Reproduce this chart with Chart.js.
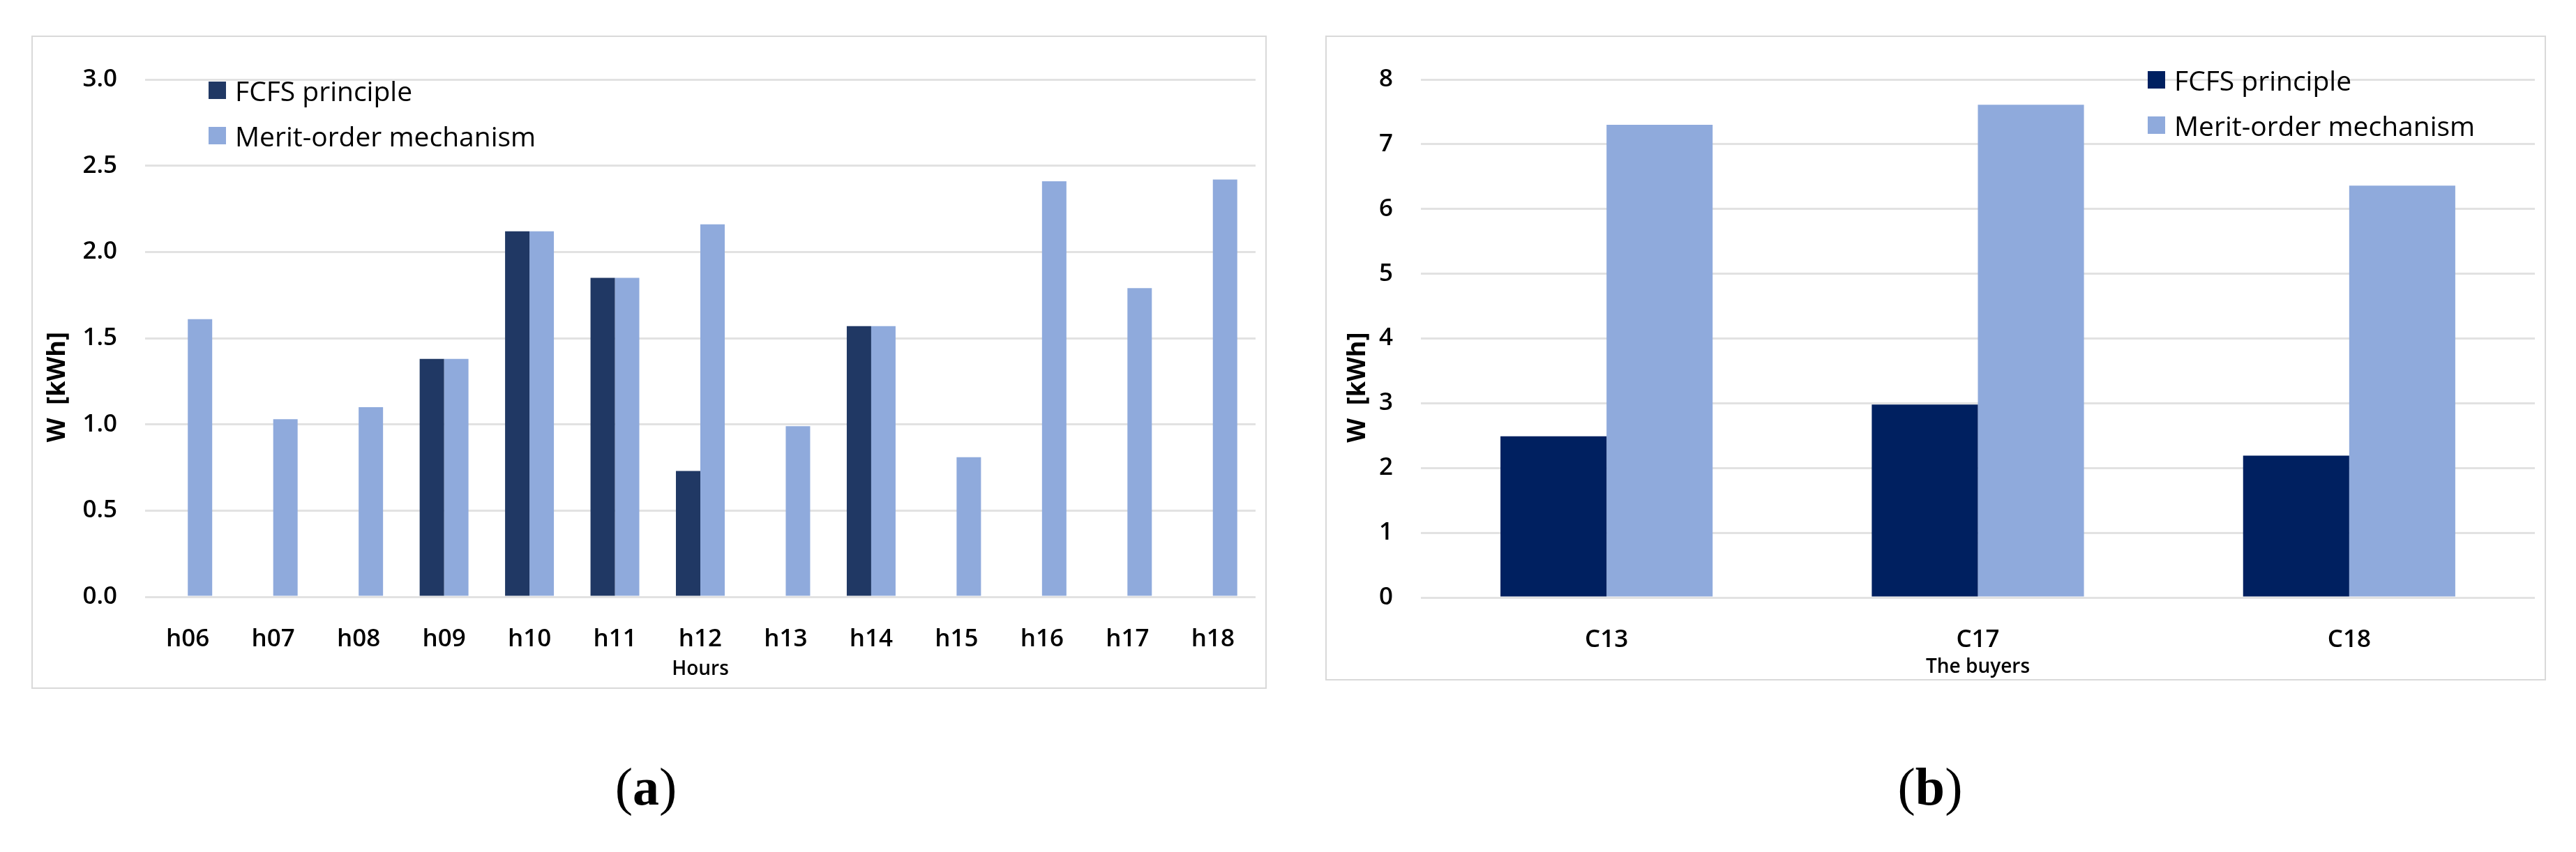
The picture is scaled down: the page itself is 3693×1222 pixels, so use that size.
<!DOCTYPE html>
<html>
<head>
<meta charset="utf-8">
<script src="https://cdn.jsdelivr.net/npm/chart.js@4.4.1/dist/chart.umd.min.js"></script>
<style>
    body { margin: 0; background: #fff; width: 3693px; height: 1222px; position: relative; overflow: hidden; }
    .panel { position: absolute; border: 2px solid #d9d9d9; box-sizing: border-box; background: #fff; }
    .panel canvas { display: block; }
    .legend { position: absolute; font-family: 'Open Sans', sans-serif; font-size: 39px; color: #000; }
    .legend div { height: 65px; display: flex; align-items: center; white-space: nowrap; }
    .legend span.box { display: inline-block; width: 25px; height: 25px; margin-right: 13px; }
    .caption { position: absolute; top: 1085px; width: 200px; text-align: center; font-family: 'Liberation Serif', 'Times New Roman', serif; font-size: 76px; color: #000; }
</style>
</head>
<body>
<div class="panel" id="panel-a" style="left:45px; top:51px; width:1771px; height:937px;">
    <canvas id="hours-chart" width="1767" height="933"></canvas>
</div>
<div class="panel" id="panel-b" style="left:1900px; top:51px; width:1750px; height:925px;">
    <canvas id="buyers-chart" width="1746" height="921"></canvas>
</div>
<div class="legend" id="legend-a" style="left:299px; top:97px;"></div>
<div class="legend" id="legend-b" style="left:3079px; top:82px;"></div>
<div class="caption" style="left:826px;">(<b>a</b>)</div>
<div class="caption" style="left:2667px;">(<b>b</b>)</div>

<script>
// chart (a): energy per hour
const hours = ['h06', 'h07', 'h08', 'h09', 'h10', 'h11', 'h12', 'h13', 'h14', 'h15', 'h16', 'h17', 'h18'];
const fcfsHourly = [0, 0, 0, 1.38, 2.12, 1.85, 0.73, 0, 1.57, 0, 0, 0, 0];
const meritHourly = [1.61, 1.03, 1.10, 1.38, 2.12, 1.85, 2.16, 0.99, 1.57, 0.81, 2.41, 1.79, 2.42];

// chart (b): energy per buyer
const buyers = ['C13', 'C17', 'C18'];
const fcfsBuyers = [2.49, 2.98, 2.19];
const meritBuyers = [7.30, 7.61, 6.36];

const seriesNames = ['FCFS principle', 'Merit-order mechanism'];
const lightBlue = '#8FAADC';

const tickFont = { family: "'Open Sans', sans-serif", size: 35, weight: '600' };

function buildChart(canvasId, labels, fcfs, merit, opts) {
    const ctx = document.getElementById(canvasId).getContext('2d');
    return new Chart(ctx, {
        type: 'bar',
        data: {
            labels: labels,
            datasets: [
                { label: seriesNames[0], data: fcfs, backgroundColor: opts.dark, borderWidth: 0 },
                { label: seriesNames[1], data: merit, backgroundColor: lightBlue, borderWidth: 0 }
            ]
        },
        options: {
            responsive: false,
            animation: false,
            categoryPercentage: 0.5714, // Excel gap width 150%
            barPercentage: 1,
            layout: { padding: { top: 30, right: 14, left: 0, bottom: 0 } },
            plugins: {
                legend: { display: false },
                tooltip: { enabled: false }
            },
            scales: {
                x: {
                    grid: { display: false },
                    border: { display: false },
                    ticks: { color: '#000', font: tickFont, padding: 32 },
                    title: {
                        display: true,
                        text: opts.xTitle,
                        color: '#000',
                        font: { family: "'Open Sans', sans-serif", size: 28, weight: '600' },
                        padding: { top: 0, bottom: opts.xTitlePad }
                    },
                    afterFit: axis => { axis.height = opts.xHeight; }
                },
                y: {
                    min: 0,
                    max: opts.yMax,
                    border: { display: false },
                    grid: { color: '#e2e2e2', lineWidth: 3, drawTicks: false },
                    ticks: {
                        stepSize: opts.yStep,
                        color: '#000',
                        font: tickFont,
                        padding: 40,
                        callback: v => opts.yStep < 1 ? v.toFixed(1) : v
                    },
                    title: {
                        display: true,
                        // trailing spaces push the rotated title below the axis middle, as in the original
                        text: 'W  [kWh]' + ' '.repeat(15),
                        color: '#000',
                        font: { family: "'Open Sans', sans-serif", size: 36, weight: 'bold' },
                        padding: { top: opts.yTitlePad, bottom: 0 }
                    },
                    afterFit: axis => { axis.width = opts.yWidth; }
                }
            }
        }
    });
}

function buildLegend(elId, chart) {
    const el = document.getElementById(elId);
    el.innerHTML = chart.data.datasets.map(ds => `
        <div><span class="box" style="background:${ds.backgroundColor}"></span>${ds.label}</div>
    `).join('');
}

const hoursChart = buildChart('hours-chart', hours, fcfsHourly, meritHourly, {
    dark: '#203864', xTitle: 'Hours', xTitlePad: 9, xHeight: 130,
    yMax: 3, yStep: 0.5, yWidth: 161, yTitlePad: 14
});
const buyersChart = buildChart('buyers-chart', buyers, fcfsBuyers, meritBuyers, {
    dark: '#002060', xTitle: 'The buyers', xTitlePad: 0, xHeight: 117,
    yMax: 8, yStep: 1, yWidth: 135, yTitlePad: 23
});

buildLegend('legend-a', hoursChart);
buildLegend('legend-b', buyersChart);
</script>
</body>
</html>
